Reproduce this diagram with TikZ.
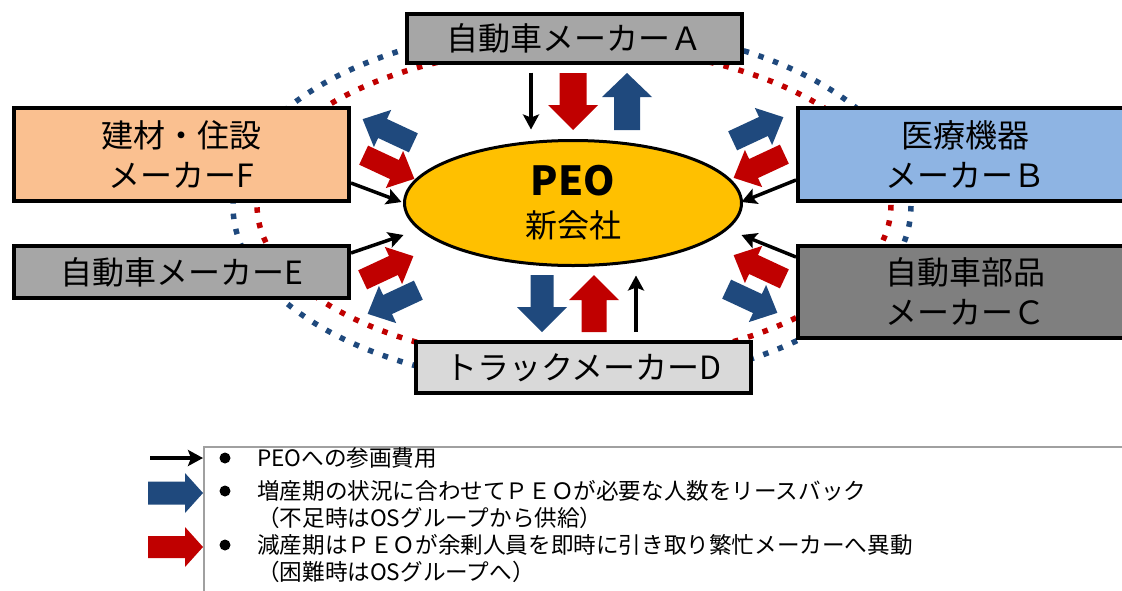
\documentclass[tikz,border=0pt]{standalone}
\usepackage{fontspec}
\setmainfont{Noto Sans CJK JP}
\usetikzlibrary{arrows.meta,shapes.geometric}
\definecolor{cBlue}{HTML}{1F497D}
\definecolor{cRed}{HTML}{C00000}
\definecolor{cGrayA}{HTML}{A6A6A6}
\definecolor{cPeach}{HTML}{FAC090}
\definecolor{cSky}{HTML}{8EB4E3}
\definecolor{cDark}{HTML}{7F7F7F}
\definecolor{cLight}{HTML}{D9D9D9}
\definecolor{cGold}{HTML}{FFC000}
\definecolor{cFrame}{HTML}{A0A0A0}
% #1 colour, #2 x, #3 y, #4 angle, #5 length, #6 shaft, #7 head width, #8 head length
\newcommand\fatarr[8]{%
  \fill[#1, shift={(#2,#3)}, rotate=#4]
    (-#5/2,-#6/2) -- (#5/2-#8,-#6/2) -- (#5/2-#8,-#7/2) -- (#5/2,0)
    -- (#5/2-#8,#7/2) -- (#5/2-#8,#6/2) -- (-#5/2,#6/2) -- cycle;}
\begin{document}
\begin{tikzpicture}[x=1pt,y=-1pt,
  box/.style={draw=black, line width=4pt, rectangle, inner sep=0pt, outer sep=0pt,
    minimum width=335pt, font=\fontsize{32}{40}\selectfont, align=center},
  dotb/.style={cBlue, line width=5.5pt, dash pattern=on 5.5pt off 10pt},
  dotr/.style={cRed, line width=5.5pt, dash pattern=on 5.5pt off 10pt},
  blk/.style={line width=3.5pt, -{Stealth[length=15pt,width=16pt,inset=3pt]}},
  legtext/.style={anchor=west, inner sep=0pt, font=\fontsize{22.6}{27}\selectfont},
]
\useasboundingbox (0,0) rectangle (1122,590);
% dotted rings
\draw[dotb] (572,206) ellipse [x radius=339, y radius=180];
\draw[dotr] (574,205) ellipse [x radius=317, y radius=158];
% boxes
\node[box, fill=cGrayA, minimum height=49pt] (A) at (574,38.5) {自動車メーカーＡ};
\node[box, fill=cPeach, minimum height=93pt] (F) at (181.5,154.5) {建材・住設\\メーカーF};
\node[box, fill=cSky, minimum height=93pt] (B) at (965.5,154.5) {医療機器\\メーカーＢ};
\node[box, fill=cGrayA, minimum height=52pt] (E) at (181.5,272) {自動車メーカーE};
\node[box, fill=cDark, minimum height=92pt] (C) at (965.5,292) {自動車部品\\メーカーＣ};
\node[box, fill=cLight, minimum height=51pt] (D) at (583.5,367.5) {トラックメーカーD};
% PEO
\node[ellipse, draw=black, line width=3pt, fill=cGold, minimum width=337pt,
  minimum height=125pt, inner sep=0pt, outer sep=0pt] (P) at (573,203) {};
\node[font=\fontsize{40}{44}\selectfont\bfseries, inner sep=0pt] (Pt) at ([yshift=22pt]P.center) {PEO};
\node[font=\fontsize{32}{36}\selectfont, inner sep=0pt] (Ps) at ([yshift=-22pt]P.center) {新会社};
% fat arrows: top and bottom
\fatarr{cRed}{573}{101.5}{-90}{57}{27}{50}{25}
\fatarr{cBlue}{627}{101.5}{90}{57}{26}{50}{24}
\fatarr{cBlue}{542}{303.5}{-90}{57}{23}{50}{25}
\fatarr{cRed}{594}{303.5}{90}{57}{25}{50}{25}
% fat arrows: diagonal
\fatarr{cBlue}{388}{131}{155}{56}{21}{41}{22}
\fatarr{cRed}{389}{167}{-25}{56}{21}{41}{22}
\fatarr{cBlue}{758}{129}{25}{56}{21}{41}{22}
\fatarr{cRed}{759}{166}{-155}{56}{21}{41}{22}
\fatarr{cRed}{388}{268}{25}{56}{21}{41}{22}
\fatarr{cBlue}{393}{302}{-155}{56}{21}{41}{22}
\fatarr{cRed}{759}{267}{155}{56}{21}{41}{22}
\fatarr{cBlue}{752}{301}{-25}{56}{21}{41}{22}
% black arrows (fees)
\draw[blk] ([shift={(-43,9.5)}]A.south) -- ([shift={(-42,-11)}]P.north);
\draw[blk] ([shift={(52.5,-10)}]D.north) -- ([shift={(63,10)}]P.south);
\draw[blk] ([shift={(2,28.5)}]F.east) -- ([shift={(-3,-1)}]P.west);
\draw[blk] ([shift={(2,-19)}]E.east) -- ([shift={(-1,32)}]P.west);
\draw[blk] ([shift={(-2,25.5)}]B.west) -- ([shift={(0,-1)}]P.east);
\draw[blk] ([shift={(-2,-35)}]C.west) -- ([shift={(0,32)}]P.east);
% legend
\node[draw=cFrame, line width=2pt, anchor=north west, minimum width=935pt,
  minimum height=170pt, inner sep=0pt] (L) at (203,446) {};
\coordinate (k1) at (150,458);
\draw[blk] (k1) -- (k1 -| L.west);
\fatarr{cBlue}{175.5}{493}{0}{55}{23}{40}{18}
\fatarr{cRed}{175.5}{547}{0}{55}{22}{40}{18}
\fill (225,458) circle (5.5);
\fill (225,491) circle (5.5);
\fill (225,545) circle (5.5);
\node[legtext] (t1) at (257,458) {PEOへの参画費用};
\node[legtext] (t2) at (257,491) {増産期の状況に合わせてＰＥＯが必要な人数をリースバック};
\node[legtext] (t3) at (257,518) {（不足時はOSグループから供給）};
\node[legtext] (t4) at (257,545) {減産期はＰＥＯが余剰人員を即時に引き取り繁忙メーカーへ異動};
\node[legtext] (t5) at (257,572) {（困難時はOSグループへ）};
\end{tikzpicture}
\end{document}
